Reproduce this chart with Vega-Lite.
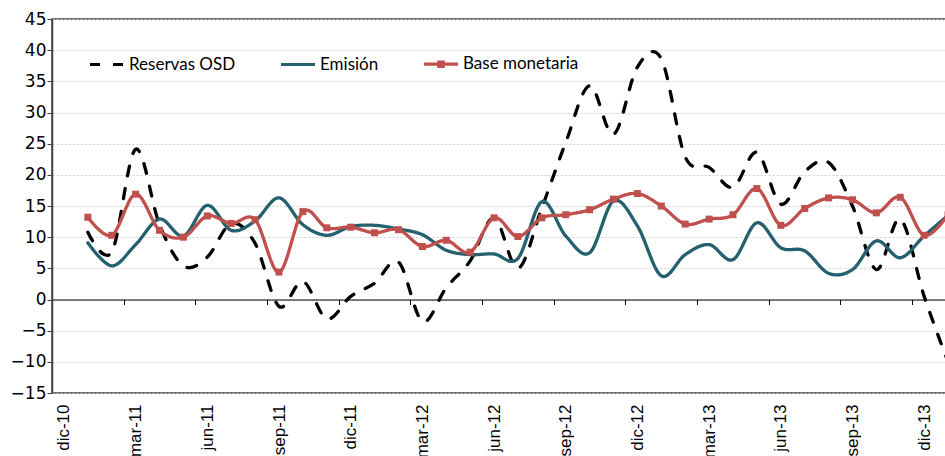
{
  "$schema": "https://vega.github.io/schema/vega-lite/v6.json",
  "width": 908,
  "height": 374,
  "autosize": "none",
  "padding": {"left": 52, "top": 19, "right": -15, "bottom": 63},
  "background": "white",
  "config": {
    "font": "Liberation Sans",
    "view": {"stroke": "#404040", "strokeWidth": 1.5},
    "axis": {"labelColor": "#000", "title": null},
    "axisY": {"labelOverlap": false, "labelFont": "DejaVu Sans", "labelFontSize": 17},
    "axisX": {"labelOverlap": false, "labelFont": "Liberation Sans", "labelFontSize": 17}
  },
  "data": {
    "values": [
      {"m": "ene-11", "s": "Reservas OSD", "v": 10.8},
      {"m": "feb-11", "s": "Reservas OSD", "v": 7.6},
      {"m": "mar-11", "s": "Reservas OSD", "v": 24.1},
      {"m": "abr-11", "s": "Reservas OSD", "v": 12.0},
      {"m": "may-11", "s": "Reservas OSD", "v": 5.4},
      {"m": "jun-11", "s": "Reservas OSD", "v": 6.8},
      {"m": "jul-11", "s": "Reservas OSD", "v": 12.2},
      {"m": "ago-11", "s": "Reservas OSD", "v": 9.0},
      {"m": "sep-11", "s": "Reservas OSD", "v": -1.1},
      {"m": "oct-11", "s": "Reservas OSD", "v": 2.9},
      {"m": "nov-11", "s": "Reservas OSD", "v": -3.1},
      {"m": "dic-11", "s": "Reservas OSD", "v": 0.5},
      {"m": "ene-12", "s": "Reservas OSD", "v": 2.6},
      {"m": "feb-12", "s": "Reservas OSD", "v": 6.0},
      {"m": "mar-12", "s": "Reservas OSD", "v": -3.5},
      {"m": "abr-12", "s": "Reservas OSD", "v": 1.9},
      {"m": "may-12", "s": "Reservas OSD", "v": 6.2},
      {"m": "jun-12", "s": "Reservas OSD", "v": 13.1},
      {"m": "jul-12", "s": "Reservas OSD", "v": 5.0},
      {"m": "ago-12", "s": "Reservas OSD", "v": 14.7},
      {"m": "sep-12", "s": "Reservas OSD", "v": 25.2},
      {"m": "oct-12", "s": "Reservas OSD", "v": 34.3},
      {"m": "nov-12", "s": "Reservas OSD", "v": 26.5},
      {"m": "dic-12", "s": "Reservas OSD", "v": 37.3},
      {"m": "ene-13", "s": "Reservas OSD", "v": 38.6},
      {"m": "feb-13", "s": "Reservas OSD", "v": 22.9},
      {"m": "mar-13", "s": "Reservas OSD", "v": 21.2},
      {"m": "abr-13", "s": "Reservas OSD", "v": 18.0},
      {"m": "may-13", "s": "Reservas OSD", "v": 23.6},
      {"m": "jun-13", "s": "Reservas OSD", "v": 15.3},
      {"m": "jul-13", "s": "Reservas OSD", "v": 20.5},
      {"m": "ago-13", "s": "Reservas OSD", "v": 22.0},
      {"m": "sep-13", "s": "Reservas OSD", "v": 15.0},
      {"m": "oct-13", "s": "Reservas OSD", "v": 4.8},
      {"m": "nov-13", "s": "Reservas OSD", "v": 12.9},
      {"m": "dic-13", "s": "Reservas OSD", "v": 0.5},
      {"m": "ene-14", "s": "Reservas OSD", "v": -10.0},
      {"m": "ene-11", "s": "Emisión", "v": 9.1},
      {"m": "feb-11", "s": "Emisión", "v": 5.4},
      {"m": "mar-11", "s": "Emisión", "v": 8.8},
      {"m": "abr-11", "s": "Emisión", "v": 12.9},
      {"m": "may-11", "s": "Emisión", "v": 10.2},
      {"m": "jun-11", "s": "Emisión", "v": 15.1},
      {"m": "jul-11", "s": "Emisión", "v": 11.1},
      {"m": "ago-11", "s": "Emisión", "v": 12.6},
      {"m": "sep-11", "s": "Emisión", "v": 16.3},
      {"m": "oct-11", "s": "Emisión", "v": 12.0},
      {"m": "nov-11", "s": "Emisión", "v": 10.3},
      {"m": "dic-11", "s": "Emisión", "v": 11.7},
      {"m": "ene-12", "s": "Emisión", "v": 11.9},
      {"m": "feb-12", "s": "Emisión", "v": 11.3},
      {"m": "mar-12", "s": "Emisión", "v": 10.4},
      {"m": "abr-12", "s": "Emisión", "v": 7.9},
      {"m": "may-12", "s": "Emisión", "v": 7.2},
      {"m": "jun-12", "s": "Emisión", "v": 7.3},
      {"m": "jul-12", "s": "Emisión", "v": 6.6},
      {"m": "ago-12", "s": "Emisión", "v": 15.7},
      {"m": "sep-12", "s": "Emisión", "v": 10.2},
      {"m": "oct-12", "s": "Emisión", "v": 7.5},
      {"m": "nov-12", "s": "Emisión", "v": 15.8},
      {"m": "dic-12", "s": "Emisión", "v": 11.8},
      {"m": "ene-13", "s": "Emisión", "v": 3.8},
      {"m": "feb-13", "s": "Emisión", "v": 7.2},
      {"m": "mar-13", "s": "Emisión", "v": 8.8},
      {"m": "abr-13", "s": "Emisión", "v": 6.4},
      {"m": "may-13", "s": "Emisión", "v": 12.3},
      {"m": "jun-13", "s": "Emisión", "v": 8.3},
      {"m": "jul-13", "s": "Emisión", "v": 7.8},
      {"m": "ago-13", "s": "Emisión", "v": 4.2},
      {"m": "sep-13", "s": "Emisión", "v": 4.8},
      {"m": "oct-13", "s": "Emisión", "v": 9.4},
      {"m": "nov-13", "s": "Emisión", "v": 6.7},
      {"m": "dic-13", "s": "Emisión", "v": 10.2},
      {"m": "ene-14", "s": "Emisión", "v": 13.5},
      {"m": "ene-11", "s": "Base monetaria", "v": 13.2},
      {"m": "feb-11", "s": "Base monetaria", "v": 10.3},
      {"m": "mar-11", "s": "Base monetaria", "v": 16.9},
      {"m": "abr-11", "s": "Base monetaria", "v": 11.1},
      {"m": "may-11", "s": "Base monetaria", "v": 10.0},
      {"m": "jun-11", "s": "Base monetaria", "v": 13.4},
      {"m": "jul-11", "s": "Base monetaria", "v": 12.2},
      {"m": "ago-11", "s": "Base monetaria", "v": 12.8},
      {"m": "sep-11", "s": "Base monetaria", "v": 4.4},
      {"m": "oct-11", "s": "Base monetaria", "v": 14.1},
      {"m": "nov-11", "s": "Base monetaria", "v": 11.5},
      {"m": "dic-11", "s": "Base monetaria", "v": 11.6},
      {"m": "ene-12", "s": "Base monetaria", "v": 10.7},
      {"m": "feb-12", "s": "Base monetaria", "v": 11.2},
      {"m": "mar-12", "s": "Base monetaria", "v": 8.5},
      {"m": "abr-12", "s": "Base monetaria", "v": 9.5},
      {"m": "may-12", "s": "Base monetaria", "v": 7.6},
      {"m": "jun-12", "s": "Base monetaria", "v": 13.1},
      {"m": "jul-12", "s": "Base monetaria", "v": 10.1},
      {"m": "ago-12", "s": "Base monetaria", "v": 13.1},
      {"m": "sep-12", "s": "Base monetaria", "v": 13.6},
      {"m": "oct-12", "s": "Base monetaria", "v": 14.4},
      {"m": "nov-12", "s": "Base monetaria", "v": 16.1},
      {"m": "dic-12", "s": "Base monetaria", "v": 17.0},
      {"m": "ene-13", "s": "Base monetaria", "v": 15.0},
      {"m": "feb-13", "s": "Base monetaria", "v": 12.1},
      {"m": "mar-13", "s": "Base monetaria", "v": 12.9},
      {"m": "abr-13", "s": "Base monetaria", "v": 13.6},
      {"m": "may-13", "s": "Base monetaria", "v": 17.8},
      {"m": "jun-13", "s": "Base monetaria", "v": 11.9},
      {"m": "jul-13", "s": "Base monetaria", "v": 14.6},
      {"m": "ago-13", "s": "Base monetaria", "v": 16.3},
      {"m": "sep-13", "s": "Base monetaria", "v": 16.0},
      {"m": "oct-13", "s": "Base monetaria", "v": 13.9},
      {"m": "nov-13", "s": "Base monetaria", "v": 16.4},
      {"m": "dic-13", "s": "Base monetaria", "v": 10.3},
      {"m": "ene-14", "s": "Base monetaria", "v": 13.6}
    ]
  },
  "layer": [
    {
      "mark": {"type": "line", "interpolate": "cardinal", "strokeWidth": 3.3, "strokeCap": "round"},
      "encoding": {
        "x": {
          "field": "m", "type": "ordinal",
          "scale": {"type": "point", "padding": 0.5, "domain": ["dic-10","ene-11","feb-11","mar-11","abr-11","may-11","jun-11","jul-11","ago-11","sep-11","oct-11","nov-11","dic-11","ene-12","feb-12","mar-12","abr-12","may-12","jun-12","jul-12","ago-12","sep-12","oct-12","nov-12","dic-12","ene-13","feb-13","mar-13","abr-13","may-13","jun-13","jul-13","ago-13","sep-13","oct-13","nov-13","dic-13","ene-14"]},
          "axis": {"orient": "bottom", "values": ["dic-10","mar-11","jun-11","sep-11","dic-11","mar-12","jun-12","sep-12","dic-12","mar-13","jun-13","sep-13","dic-13"], "labelAngle": -90, "labelFontSize": 17, "labelOverlap": false, "ticks": false, "domain": false, "grid": false, "labelPadding": 11}
        },
        "y": {
          "field": "v", "type": "quantitative",
          "scale": {"domain": [-15, 45], "nice": false, "zero": false},
          "axis": {"values": [-15,-10,-5,0,5,10,15,20,25,30,35,40,45], "labelFont": "DejaVu Sans", "labelFontSize": 17, "labelOverlap": false, "grid": true, "gridDash": [2, 2], "gridColor": "#cfcfcf", "domainColor": "#404040", "domainWidth": 1.5, "tickColor": "#404040", "tickSize": 5, "labelPadding": 1}
        },
        "color": {
          "field": "s", "type": "nominal",
          "scale": {"domain": ["Reservas OSD", "Emisión", "Base monetaria"], "range": ["#000000", "#24606E", "#C0504D"]},
          "legend": {
            "title": null, "orient": "none", "legendX": 36, "legendY": 26, "direction": "horizontal",
            "columns": 3, "columnPadding": 38, "symbolType": "stroke", "symbolSize": 1156, "symbolStrokeWidth": 3.2,
            "labelFont": "Lato", "labelFontSize": 17, "labelColor": "#000", "labelOffset": 3,
            "encode": {"symbols": {"update": {
              "shape": [{"test": "datum.value === 'Base monetaria'", "value": "M-1,0H1M-0.13,-0.13H0.13V0.13H-0.13Z"}, {"value": "stroke"}],
              "fill": [{"test": "datum.value === 'Base monetaria'", "value": "#C0504D"}, {"value": "transparent"}]
            }}}
          }
        },
        "strokeDash": {
          "field": "s", "type": "nominal",
          "scale": {"domain": ["Reservas OSD", "Emisión", "Base monetaria"], "range": [[10, 13], [1, 0], [1, 0]]}
        }
      }
    },
    {
      "transform": [{"filter": "datum.s === 'Base monetaria'"}],
      "mark": {"type": "square", "size": 49, "opacity": 1, "filled": true, "color": "#C0504D"},
      "encoding": {
        "x": {
          "field": "m", "type": "ordinal",
          "axis": {"orient": "bottom", "offset": -93.5, "values": ["mar-11","jun-11","sep-11","dic-11","mar-12","jun-12","sep-12","dic-12","mar-13","jun-13","sep-13","dic-13"], "labels": false, "ticks": true, "tickSize": 5, "tickOffset": -12, "tickColor": "#000", "domain": true, "domainColor": "#000", "domainWidth": 1.2, "grid": false}
        },
        "y": {
          "field": "v", "type": "quantitative",
          "axis": {"values": [-15,-10,-5,0,5,10,15,20,25,30,35,40,45], "labelFont": "DejaVu Sans", "labelFontSize": 17, "labelOverlap": false, "grid": true, "gridDash": [2, 2], "gridColor": "#cfcfcf", "domainColor": "#404040", "domainWidth": 1.5, "tickColor": "#404040", "tickSize": 5, "labelPadding": 1}
        }
      }
    }
  ],
  "resolve": {"axis": {"x": "independent"}}
}
